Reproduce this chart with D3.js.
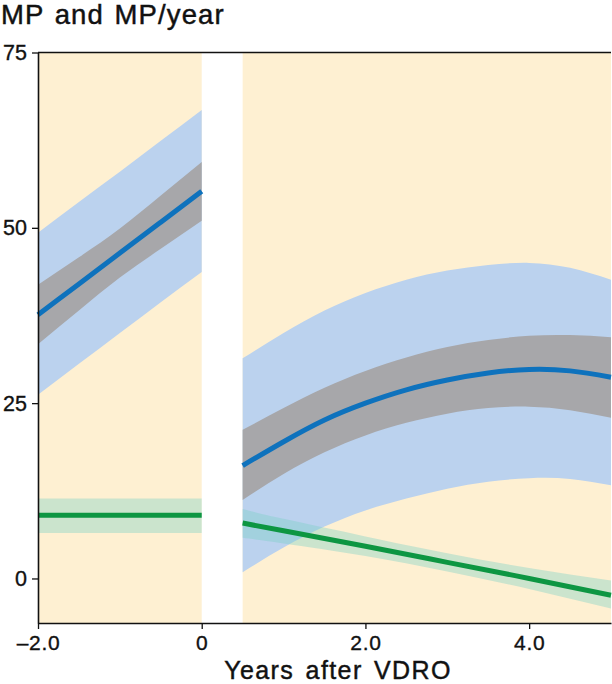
<!DOCTYPE html>
<html>
<head>
<meta charset="utf-8">
<script src="https://cdn.jsdelivr.net/npm/d3@7"></script>
<style>
  html, body { margin: 0; padding: 0; background: #ffffff; }
  svg { display: block; }
  text { font-family: "Liberation Sans", Arial, Helvetica, sans-serif; fill: #111; }
</style>
</head>
<body>
<svg id="chart" width="612" height="684"></svg>
<script>
// ---------- data ----------
const title = "MP and MP/year";
const xLabel = "Years after VDRO";
const xTicks = [-2, 0, 2, 4];
const xTickLabels = ["\u20132.0", "0", "2.0", "4.0"];
const yTicks = [0, 25, 50, 75];
const yTickLabels = ["0", "25", "50", "75"];
const gapStart = 0, gapEnd = 0.5;

// before VDRO
const preX      = [-2, -1.5, -1, -0.5, 0];
const preMP     = [37.6, 42.0, 46.4, 50.8, 55.2];
const preMPciLo = [33.4, 38.2, 42.9, 47.0, 51.0];
const preMPciHi = [41.9, 45.8, 49.9, 54.6, 59.4];
const preMPpiLo = [26.2, 30.6, 35.0, 39.4, 43.7];
const preMPpiHi = [49.3, 53.7, 58.0, 62.4, 66.8];

const preRateX  = [-2, 0];
const preRate   = [9.0, 9.0];
const preRateLo = [6.5, 6.5];
const preRateHi = [11.4, 11.4];

// after VDRO
const postX      = [0.5, 1.0, 1.5, 2.0, 2.5, 3.0, 3.5, 4.0, 4.5, 5.0];
const postMP     = [16.1, 19.5, 22.6, 25.0, 26.9, 28.3, 29.3, 29.8, 29.6, 28.7];
const postMPciLo = [11.2, 14.9, 18.0, 20.4, 22.2, 23.5, 24.3, 24.5, 24.0, 22.9];
const postMPciHi = [21.2, 24.3, 27.2, 29.6, 31.5, 33.0, 34.0, 34.6, 34.7, 34.4];
const postMPpiLo = [0.9, 4.4, 7.4, 9.7, 11.4, 12.8, 13.8, 14.3, 14.2, 13.3];
const postMPpiHi = [31.4, 35.0, 38.2, 40.7, 42.6, 43.9, 44.7, 45.0, 44.3, 42.6];

const postRateX  = [0.5, 1, 2, 3, 4, 5];
const postRate   = [7.9, 6.8, 4.6, 2.3, 0.0, -2.4];
const postRateLo = [5.8, 5.0, 3.2, 1.0, -1.5, -4.3];
const postRateHi = [9.9, 8.5, 6.0, 3.6, 1.5, -0.3];

// ---------- drawing ----------
(function () {
const svg = d3.select("#chart");
const mLeft = 38, mRight = 611, mTop = 52.5, mBottom = 623;
const yMin = -6.35, yMax = 75;

const x = d3.scaleLinear().domain([-2, 5]).range([mLeft, mRight]);
const y = d3.scaleLinear().domain([yMin, yMax]).range([mBottom, mTop]);

const colors = {
  bg: "#fef0d2",
  pi: "#bbd2ee",
  ci: "#a7a7aa",
  blue: "#0e72bd",
  green: "#0d9642",
  greenBand: "rgba(120,208,196,0.38)"
};

// background
svg.append("rect")
  .attr("x", x(-2)).attr("y", y(yMax))
  .attr("width", x(5) - x(-2)).attr("height", y(yMin) - y(yMax))
  .attr("fill", colors.bg);
svg.append("rect")
  .attr("x", x(gapStart)).attr("y", y(yMax))
  .attr("width", x(gapEnd) - x(gapStart)).attr("height", y(yMin) - y(yMax))
  .attr("fill", "#ffffff");

const band = (xs, lo, hi) => d3.area()
  .x((d, i) => x(xs[i]))
  .y0((d, i) => y(lo[i]))
  .y1((d, i) => y(hi[i]))
  .curve(d3.curveNatural)(xs);
const line = (xs, ys) => d3.line()
  .x((d, i) => x(xs[i]))
  .y((d, i) => y(ys[i]))
  .curve(d3.curveNatural)(xs);

const g = svg.append("g");
g.append("path").attr("d", band(preX, preMPpiLo, preMPpiHi)).attr("fill", colors.pi);
g.append("path").attr("d", band(postX, postMPpiLo, postMPpiHi)).attr("fill", colors.pi);
g.append("path").attr("d", band(preX, preMPciLo, preMPciHi)).attr("fill", colors.ci);
g.append("path").attr("d", band(postX, postMPciLo, postMPciHi)).attr("fill", colors.ci);
g.append("path").attr("d", band(preRateX, preRateLo, preRateHi)).attr("fill", colors.greenBand);
g.append("path").attr("d", band(postRateX, postRateLo, postRateHi)).attr("fill", colors.greenBand);
g.append("path").attr("d", line(preX, preMP)).attr("fill", "none")
  .attr("stroke", colors.blue).attr("stroke-width", 5);
g.append("path").attr("d", line(postX, postMP)).attr("fill", "none")
  .attr("stroke", colors.blue).attr("stroke-width", 5);
g.append("path").attr("d", line(preRateX, preRate)).attr("fill", "none")
  .attr("stroke", colors.green).attr("stroke-width", 5);
g.append("path").attr("d", line(postRateX, postRate)).attr("fill", "none")
  .attr("stroke", colors.green).attr("stroke-width", 5);

// top border
svg.append("line")
  .attr("x1", x(-2)).attr("x2", x(5)).attr("y1", y(yMax)).attr("y2", y(yMax))
  .attr("stroke", "#111").attr("stroke-width", 1.6);

// axes
const yAxis = d3.axisLeft(y).tickValues(yTicks)
  .tickFormat((d, i) => yTickLabels[i]).tickSize(6).tickSizeOuter(0).tickPadding(5);
const yg = svg.append("g").attr("transform", `translate(${mLeft},0)`).call(yAxis);
const xAxis = d3.axisBottom(x).tickValues(xTicks)
  .tickFormat((d, i) => xTickLabels[i]).tickSize(6).tickSizeOuter(0).tickPadding(6);
const xg = svg.append("g").attr("transform", `translate(0,${mBottom})`).call(xAxis);

[yg, xg].forEach(a => {
  a.select(".domain").attr("stroke", "#111").attr("stroke-width", 1.6);
  a.selectAll(".tick line").attr("stroke", "#111").attr("stroke-width", 1.3);
  a.selectAll(".tick text")
    .attr("fill", "#111")
    .attr("stroke", "#111").attr("stroke-width", 0.35)
    .style("font-family", '"Liberation Sans", Arial, sans-serif')
    .style("font-size", "21.5px");
});
xg.selectAll(".tick text").style("font-size", "21px").style("letter-spacing", "0.7px");

// title
svg.append("text")
  .attr("x", 1).attr("y", 24)
  .attr("stroke", "#111").attr("stroke-width", 0.45)
  .style("font-size", "27.5px")
  .style("letter-spacing", "1.1px")
  .style("word-spacing", "2px")
  .text(title);

// x label
svg.append("text")
  .attr("x", 338).attr("y", 678.6)
  .attr("text-anchor", "middle")
  .attr("stroke", "#111").attr("stroke-width", 0.45)
  .style("font-size", "25px")
  .style("letter-spacing", "1.4px")
  .style("word-spacing", "3px")
  .text(xLabel);
})();
</script>
</body>
</html>
